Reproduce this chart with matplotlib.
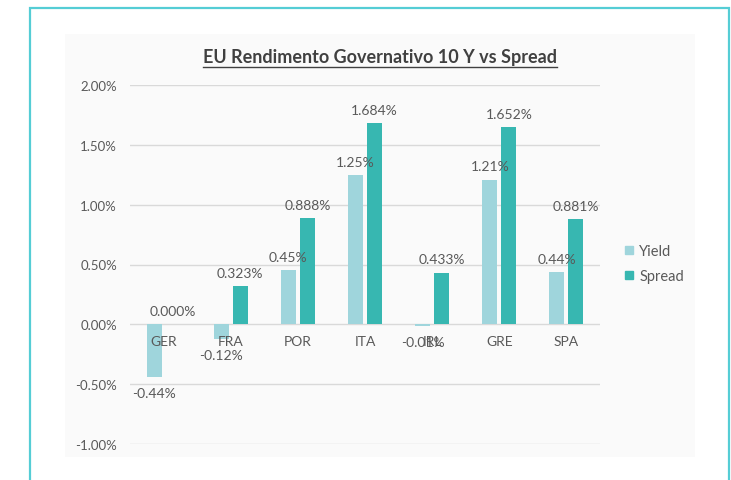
import matplotlib
matplotlib.use('Agg')
import matplotlib.pyplot as plt
import numpy as np
from matplotlib.patches import Rectangle
from matplotlib.lines import Line2D

# data
countries = ['GER', 'FRA', 'POR', 'ITA', 'IRL', 'GRE', 'SPA']
yield_10y = [-0.44, -0.12, 0.45, 1.25, -0.01, 1.21, 0.44]
spread = [0.000, 0.323, 0.888, 1.684, 0.433, 1.652, 0.881]
y_ticks = [-1.0, -0.5, 0.0, 0.5, 1.0, 1.5, 2.0]

plt.rcParams['font.family'] = ['Lato', 'DejaVu Sans']
text_color = '#595959'
yield_color = '#9FD5DC'
spread_color = '#37B7B1'

W, H = 731, 481
fig = plt.figure(figsize=(W / 100, H / 100), dpi=100)

# cyan frame and light grey chart area
fig.patches.append(Rectangle((30 / W, -0.1), 699 / W, 1 - 9 / H + 0.1, transform=fig.transFigure,
                             fill=False, edgecolor='#55CDD5', linewidth=1.6, zorder=-2))
fig.patches.append(Rectangle((65 / W, 1 - 458 / H), 630 / W, (458 - 35) / H, transform=fig.transFigure,
                             facecolor='#FAFAFA', edgecolor='none', zorder=-2))

ax = fig.add_axes([130 / W, 1 - 445 / H, 470 / W, (445 - 86) / H])
ax.patch.set_alpha(0)
ax.set_zorder(2)

x = np.arange(len(countries))
bw = 0.224
off = 0.142
ax.bar(x - off, yield_10y, bw, color=yield_color, label='Yield', zorder=2)
ax.bar(x + off, spread, bw, color=spread_color, label='Spread', zorder=2)

for i in range(len(countries)):
    yv = yield_10y[i]
    sv = spread[i]
    ax.annotate('%.2f%%' % yv, (x[i] - off, yv), xytext=(0, 9.4 if yv > 0 else -11.5),
                textcoords='offset points', ha='center', va='center', fontsize=10, color=text_color)
    ax.annotate('%.3f%%' % sv, (x[i] + off, sv), xytext=(0, 9.4 if sv >= 0 else -11.5),
                textcoords='offset points', ha='center', va='center', fontsize=10, color=text_color)
    ax.annotate(countries[i], (x[i], 0), xytext=(0, -12.2), textcoords='offset points',
                ha='center', va='center', fontsize=10, color=text_color)

ax.set_xlim(-0.5, len(countries) - 0.5)
ax.set_ylim(-1.0, 2.0)
ax.set_yticks(y_ticks)
ax.set_yticklabels(['%.2f%%' % v for v in y_ticks])
ax.set_xticks([])
ax.tick_params(axis='y', length=0, pad=9.4, labelsize=9.5, labelcolor=text_color)
ax.grid(axis='y', color='#D9D9D9', linewidth=1, zorder=0)
ax.set_axisbelow(True)
for s in ax.spines.values():
    s.set_visible(False)

handles = [Line2D([], [], marker='s', linestyle='none', markersize=6, color=yield_color),
           Line2D([], [], marker='s', linestyle='none', markersize=6, color=spread_color)]
leg = fig.legend(handles, ['Yield', 'Spread'], loc='center left', bbox_to_anchor=(610 / W, 1 - 264.5 / H),
                 frameon=False, fontsize=10.5, labelcolor=text_color, handlelength=0.8, handletextpad=0.3,
                 labelspacing=0.7)

title = fig.text(380 / W, 1 - 58 / H, 'EU Rendimento Governativo 10 Y vs Spread', ha='center', va='center',
                 fontsize=13, fontweight='bold', color='#404040')
fig.canvas.draw()
bb = title.get_window_extent()
fig.lines.append(Line2D([bb.x0 / W, bb.x1 / W], [(bb.y0 - 1) / H, (bb.y0 - 1) / H],
                        transform=fig.transFigure, color='#404040', linewidth=1))

fig.savefig('out.png', dpi=100)
